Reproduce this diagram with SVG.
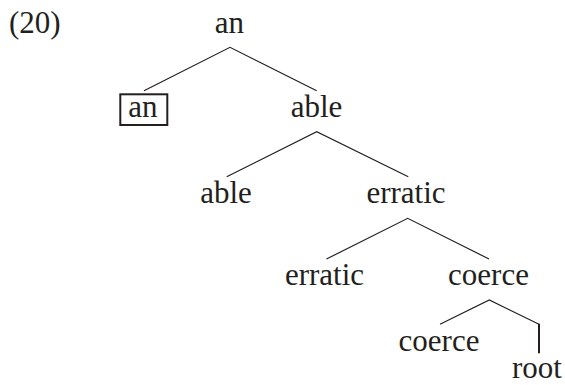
<svg xmlns="http://www.w3.org/2000/svg" width="565" height="385" viewBox="0 0 565 385">
<style>
text{font-family:"Liberation Serif","Times New Roman",serif;font-size:31px;fill:#231f20;text-anchor:middle}
.edge{stroke:#231f20;stroke-width:1.2;fill:none}
.thick{stroke-width:2}
</style>
<rect width="565" height="385" fill="#ffffff"/>
<text x="9" y="33" style="text-anchor:start">(20)</text>
<g id="connectors">
<polyline class="edge" points="144,90.7 230,47.3 316.7,90.7"/>
<polyline class="edge" points="226.7,176.7 316.7,131.7 408.3,176.7"/>
<polyline class="edge" points="326.5,259 407.7,218.3 489,259"/>
<polyline class="edge" points="440,324.3 489.3,300 539,324.3"/>
<line class="edge thick" x1="539" y1="323.8" x2="539" y2="353.3"/>
</g>
<g id="n-an-root"><text x="229.5" y="33">an</text></g>
<g id="n-an-leaf"><rect x="120.3" y="94.3" width="47" height="30.7" fill="none" stroke="#231f20" stroke-width="2"/><text x="143" y="117">an</text></g>
<g id="n-able-1"><text x="316.5" y="117">able</text></g>
<g id="n-able-2"><text x="226" y="203">able</text></g>
<g id="n-erratic-2"><text x="406" y="203">erratic</text></g>
<g id="n-erratic-3"><text x="324.5" y="285">erratic</text></g>
<g id="n-coerce-3"><text x="488.5" y="285">coerce</text></g>
<g id="n-coerce-4"><text x="439" y="350.5">coerce</text></g>
<g id="n-root"><text x="537" y="378">root</text></g>
</svg>
